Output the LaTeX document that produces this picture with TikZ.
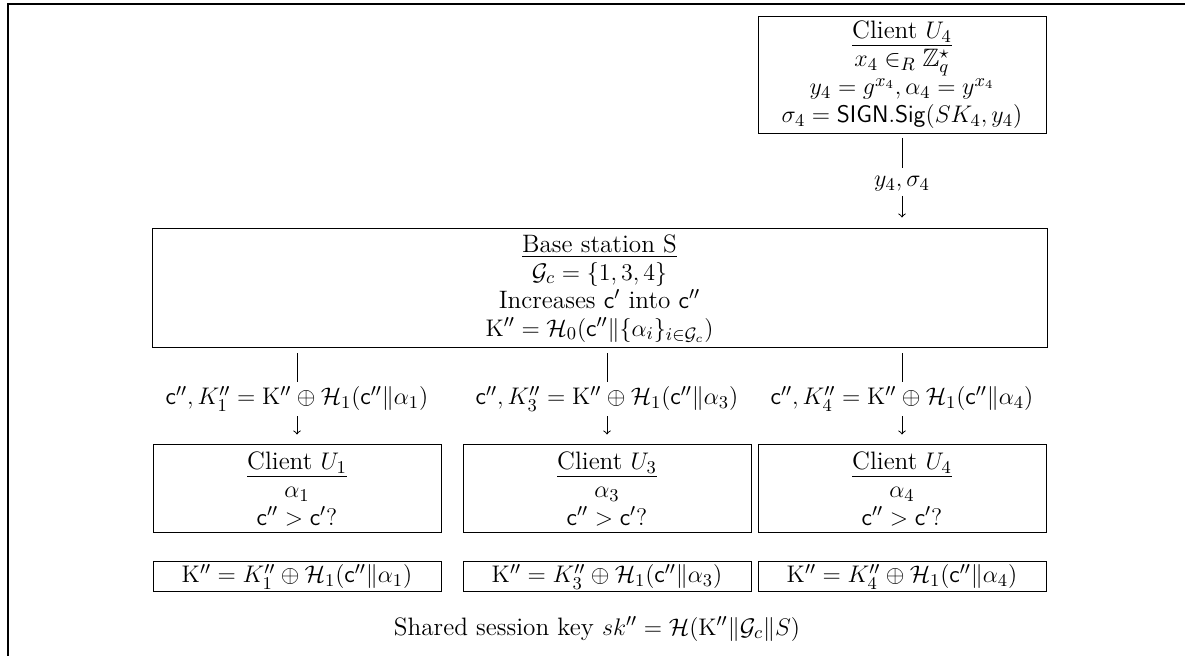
\documentclass[11pt,tikz,border=0pt]{standalone}
\usepackage{amsmath,amssymb}
\begin{document}
\begin{tikzpicture}[x=0.5pt,y=-0.5pt,
  every node/.style={font=\fontsize{12.6}{14}\selectfont},
  box/.style={draw, line width=0.5pt, inner sep=0pt, align=center, minimum width=144pt},
  lab/.style={inner sep=2pt},
  conn/.style={line width=0.5pt},
]
\useasboundingbox (0,0) rectangle (1185,656);
\draw[line width=0.6pt] (8,656) -- (8,4) -- (1185,4);

\node[box, minimum height=58.5pt] (u4top) at (902,75)
  {\underline{Client $U_4$}\\ $x_4 \in_R \mathbb{Z}_q^\star$\\ $y_4 = g^{x_4}, \alpha_4 = y^{x_4}$\\ $\sigma_4 = \mathsf{SIGN}.\mathsf{Sig}(SK_4, y_4)$};
\node[lab] (l0) at (902,184) {$y_4, \sigma_4$};
\node[box, minimum width=447.5pt, minimum height=59.5pt] (bs) at (599.5,288.5)
  {\underline{Base station S}\\ $\mathcal{G}_c = \{1,3,4\}$\\ Increases $\mathsf{c}'$ into $\mathsf{c}''$\\ $\mathrm{K}'' = \mathcal{H}_0(\mathsf{c}''\|\{\alpha_i\}_{i\in\mathcal{G}_c})$};

\draw[conn, shorten <=2pt, shorten >=2pt] (u4top) -- (l0);
\draw[conn, ->, shorten >=5.5pt] (l0) -- (bs.north -| l0);

\node[lab] (l1) at (297,399) {$\mathsf{c}'', K_1'' = \mathrm{K}'' \oplus \mathcal{H}_1(\mathsf{c}''\|\alpha_1)$};
\node[lab] (l3) at (607,399) {$\mathsf{c}'', K_3'' = \mathrm{K}'' \oplus \mathcal{H}_1(\mathsf{c}''\|\alpha_3)$};
\node[lab] (l4) at (902,399) {$\mathsf{c}'', K_4'' = \mathrm{K}'' \oplus \mathcal{H}_1(\mathsf{c}''\|\alpha_4)$};

\node[box, minimum height=44pt] (c1) at (297,489)
  {\underline{Client $U_1$}\\ $\alpha_1$\\ $\mathsf{c}'' > \mathsf{c}'?$};
\node[box, minimum height=44pt] (c3) at (607,489)
  {\underline{Client $U_3$}\\ $\alpha_3$\\ $\mathsf{c}'' > \mathsf{c}'?$};
\node[box, minimum height=44pt] (c4) at (902,489)
  {\underline{Client $U_4$}\\ $\alpha_4$\\ $\mathsf{c}'' > \mathsf{c}'?$};

\foreach \l/\c in {l1/c1, l3/c3, l4/c4}{
  \draw[conn, shorten <=2.5pt] (bs.south -| \l) -- (\l);
  \draw[conn, ->, shorten >=5pt] (\l) -- (\c);
}

\node[box, minimum height=15pt] (k1) at (297,577)
  {$\mathrm{K}'' = K_1'' \oplus \mathcal{H}_1(\mathsf{c}''\|\alpha_1)$};
\node[box, minimum height=15pt] (k3) at (607,577)
  {$\mathrm{K}'' = K_3'' \oplus \mathcal{H}_1(\mathsf{c}''\|\alpha_3)$};
\node[box, minimum height=15pt] (k4) at (902,577)
  {$\mathrm{K}'' = K_4'' \oplus \mathcal{H}_1(\mathsf{c}''\|\alpha_4)$};

\node (sk) at (597,629) {Shared session key $sk'' = \mathcal{H}(\mathrm{K}''\|\mathcal{G}_c\|S)$};
\end{tikzpicture}
\end{document}
